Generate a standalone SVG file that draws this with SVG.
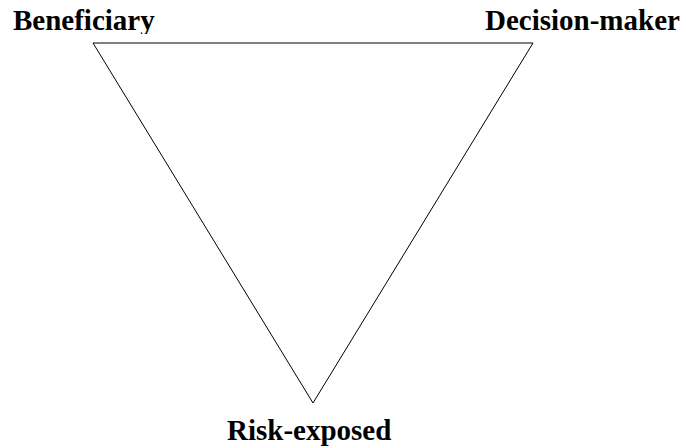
<svg xmlns="http://www.w3.org/2000/svg" width="686" height="448" viewBox="0 0 686 448">
  <style>
    .label { font-family: "Liberation Serif", serif; font-weight: 700; font-size: 29px; fill: #000; }
    .edge { fill: none; stroke: #000; stroke-width: 1; }
  </style>
  <defs>
    <!-- top label strip is cut just below the baseline -->
    <clipPath id="top-strip">
      <rect x="0" y="0" width="686" height="34"/>
    </clipPath>
  </defs>
  <rect width="686" height="448" fill="#fff"/>
  <g id="connectors">
    <polygon class="edge" points="93,43 533,43 313,403"/>
  </g>
  <g id="node-beneficiary" clip-path="url(#top-strip)">
    <text class="label" x="13" y="30">Beneficiary</text>
  </g>
  <g id="node-decision-maker" clip-path="url(#top-strip)">
    <text class="label" x="485" y="30">Decision-maker</text>
  </g>
  <g id="node-risk-exposed">
    <text class="label" x="227" y="440">Risk-exposed</text>
  </g>
</svg>
